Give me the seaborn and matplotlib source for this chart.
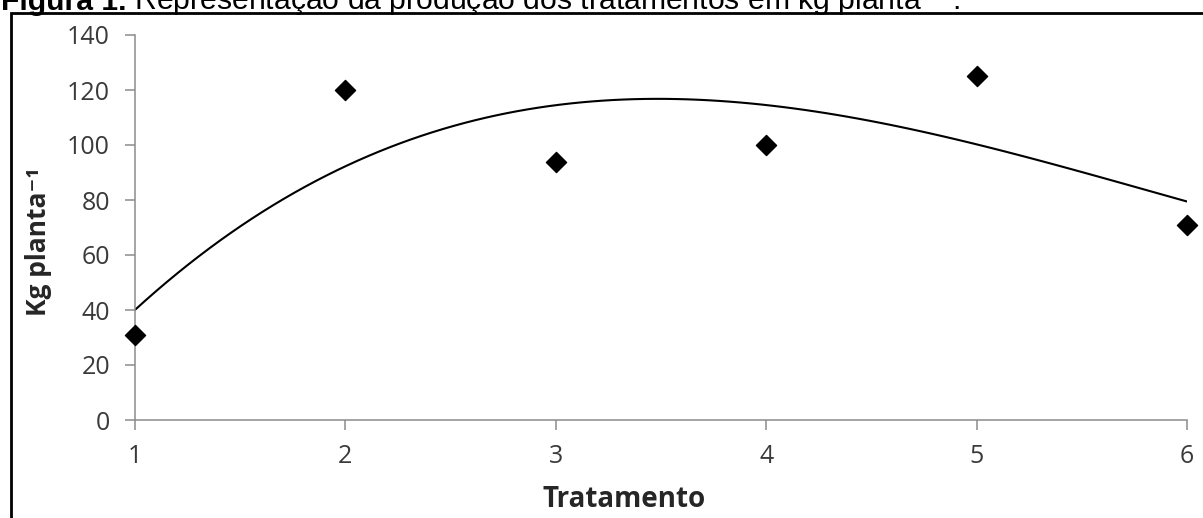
import matplotlib
matplotlib.use("Agg")
import matplotlib.pyplot as plt
from matplotlib.patches import Rectangle
import seaborn as sns
import numpy as np
import pandas as pd

# ---- data ----
tratamento = [1, 2, 3, 4, 5, 6]
producao = [31, 120, 94, 100, 125, 71]
y_ticks = [0, 20, 40, 60, 80, 100, 120, 140]
x_ticks = [1, 2, 3, 4, 5, 6]

df = pd.DataFrame({"Tratamento": tratamento, "Producao": producao})

sns.set_theme(style="ticks")
plt.rcParams["font.family"] = ["Open Sans", "DejaVu Sans"]

W, H = 1203, 518
fig = plt.figure(figsize=(W / 100, H / 100), dpi=100)
fig.patch.set_facecolor("white")

ax = fig.add_axes([135 / W, 1 - 420 / H, 1052 / W, 385 / H])
ax.set_facecolor("white")

# polynomial (order 3) trend line, like the spreadsheet trendline
sns.regplot(data=df, x="Tratamento", y="Producao", order=3, ci=None,
            scatter=False, truncate=True, ax=ax,
            line_kws=dict(color="black", lw=1.5, zorder=2))
sns.scatterplot(data=df, x="Tratamento", y="Producao", marker="D", s=105,
                color="black", edgecolor="black", linewidth=1, ax=ax,
                zorder=3, clip_on=False)

ax.set_xlim(1, 6)
ax.set_ylim(0, 140)
ax.set_xticks(x_ticks)
ax.set_yticks(y_ticks)
ax.set_xticklabels([str(v) for v in x_ticks])
ax.set_yticklabels([str(v) for v in y_ticks])

axis_gray = "#8c8c8c"
for side in ["top", "right"]:
    ax.spines[side].set_visible(False)
for side in ["left", "bottom"]:
    ax.spines[side].set_color(axis_gray)
    ax.spines[side].set_linewidth(1.1)

ax.tick_params(axis="both", direction="out", length=7, width=1.1,
               color=axis_gray, labelcolor="#3a3a3a", labelsize=18)
ax.tick_params(axis="x", pad=10)
ax.tick_params(axis="y", pad=11)

ax.set_xlabel("Tratamento", fontsize=20, fontweight="bold", color="#262626")
ax.set_ylabel("Kg planta\u207b\u00b9", fontsize=19, fontweight="bold",
              color="#262626")
ax.xaxis.set_label_coords(0.465, -0.168)
ax.yaxis.set_label_coords(-0.079, 0.462)

# figure frame (partially visible, as in the source document)
fig.patches.append(Rectangle((11 / W, -0.2), 1.5, 1.2 - 13 / H,
                             transform=fig.transFigure, fill=False,
                             lw=2, ec="black", zorder=10))

# caption at the top (cut off by the image edge, as in the reference)
title_family = ["Liberation Sans", "DejaVu Sans"]
base_y = 1 - 10 / H
t1 = fig.text(1 / W, base_y, "Figura 1.", fontsize=21.7, fontweight="bold",
              family=title_family, va="baseline", ha="left", color="black")
fig.canvas.draw()
bb = t1.get_window_extent(renderer=fig.canvas.get_renderer())
fig.text(bb.x1 / W, base_y,
         " Representação da produção dos tratamentos em kg planta$^{-1}$.",
         fontsize=21.7, family=title_family, va="baseline", ha="left",
         color="black")

fig.savefig("out.png", dpi=100, facecolor="white")
